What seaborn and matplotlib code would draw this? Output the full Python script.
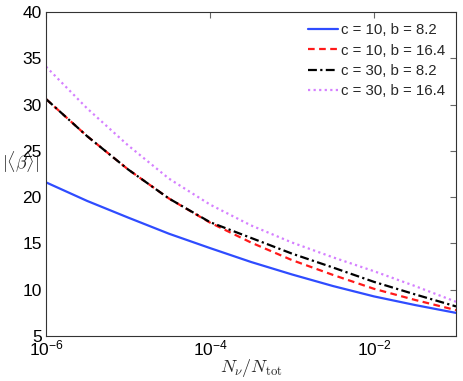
import numpy as np
import pandas as pd
import matplotlib
matplotlib.use("Agg")
import matplotlib.pyplot as plt
import matplotlib.ticker as mticker
import seaborn as sns

x_vals = [1e-6, 3.16e-6, 1e-5, 3.16e-5, 1e-4, 3.16e-4, 1e-3, 3.16e-3, 1e-2, 3.16e-2, 1e-1]
labels = ["c = 10, b = 8.2", "c = 10, b = 16.4", "c = 30, b = 8.2", "c = 30, b = 16.4"]
y_c10_b8 = [21.6, 19.6, 17.8, 16.05, 14.5, 13.0, 11.65, 10.4, 9.28, 8.35, 7.5]
y_c10_b16 = [30.6, 26.6, 23.0, 19.85, 17.25, 15.1, 13.2, 11.6, 10.1, 8.9, 7.8]
y_c30_b8 = [30.6, 26.6, 23.0, 19.85, 17.3, 15.6, 13.9, 12.4, 10.85, 9.5, 8.2]
y_c30_b16 = [34.1, 29.6, 25.6, 22.0, 19.2, 16.95, 15.1, 13.5, 12.0, 10.4, 8.7]
x_ticks = [1e-6, 1e-4, 1e-2]
y_ticks = [5, 10, 15, 20, 25, 30, 35, 40]

series = [y_c10_b8, y_c10_b16, y_c30_b8, y_c30_b16]
df = pd.concat([pd.DataFrame({"x": x_vals, "y": s, "curve": lab}) for lab, s in zip(labels, series)],
               ignore_index=True)

sns.set_style("white")
plt.rcParams["font.family"] = ["Liberation Sans", "DejaVu Sans"]
plt.rcParams["mathtext.fontset"] = "cm"

colors = {labels[0]: "#2f4cff", labels[1]: "#ff1a1a", labels[2]: "#000000", labels[3]: "#d580ff"}
dashes = {labels[0]: "", labels[1]: (3, 2), labels[2]: (4, 1.5, 1, 1.5), labels[3]: (1, 1.5)}

fig = plt.figure(figsize=(4.63, 3.81), dpi=100)
ax = fig.add_axes([0.0994, 0.118, 0.8856, 0.8505])
sns.lineplot(data=df, x="x", y="y", hue="curve", style="curve", palette=colors,
             dashes=dashes, linewidth=1.6, legend=False, ax=ax)
ax.set_xscale("log")
ax.set_xlim(1e-6, 1e-1)
ax.set_ylim(5, 40)
ax.set_yticks(y_ticks)
ax.set_xticks(x_ticks)
ax.xaxis.set_major_formatter(mticker.FuncFormatter(
    lambda v, p: r"$\mathregular{10^{%d}}$" % int(round(np.log10(v)))))
ax.xaxis.set_minor_locator(mticker.NullLocator())
ax.tick_params(direction="in", top=True, right=True, labelsize=12.5, length=4, width=0.8,
               colors="#666666", labelcolor="black")
ax.tick_params(axis="x", pad=2)
ax.tick_params(axis="y", pad=3)
for sp in ax.spines.values():
    sp.set_color("#333333")
    sp.set_linewidth(0.8)
ax.set_xlabel(r"$N_\nu/N_{\rm tot}$", fontsize=13, labelpad=-1)
ax.set_ylabel(r"$|\langle\beta\rangle|$", fontsize=13, rotation=0, ha="center", va="center")
ax.yaxis.set_label_coords(-0.062, 0.537)

handles = ax.get_lines()[:4]
ax.legend(handles, labels, loc="upper right", frameon=False, fontsize=10.8,
          handlelength=2.0, handletextpad=0.15, labelspacing=0.42, borderaxespad=0.35,
          bbox_to_anchor=(1.0, 1.0))

fig.savefig("out.png", dpi=100)
